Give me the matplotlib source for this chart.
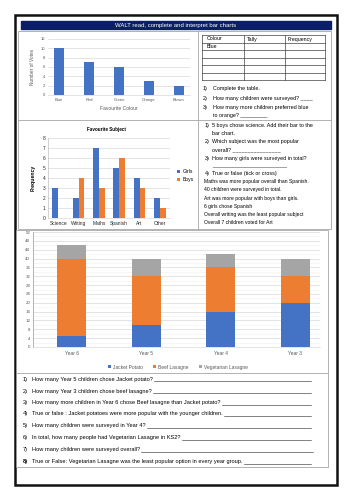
"""Worksheet: WALT read, complete and interpret bar charts."""

import matplotlib
matplotlib.use("Agg")
import matplotlib.pyplot as plt
import numpy as np
from matplotlib.lines import Line2D
from matplotlib.patches import Rectangle

plt.rcParams["font.family"] = ["Liberation Sans", "DejaVu Sans"]

# --- data ---------------------------------------------------------------
colours = ["Blue", "Red", "Green", "Orange", "Brown"]
votes = [10, 7, 6, 3, 2]

subjects = ["Science", "Writing", "Maths", "Spanish", "Art", "Other"]
girls = [3, 2, 7, 5, 4, 2]
boys = [0, 4, 3, 6, 3, 1]

years = ["Year 6", "Year 5", "Year 4", "Year 3"]
jacket_potato = [5, 10, 16, 20]
beef_lasagne = [35, 22, 20, 12]
veg_lasagne = [6, 8, 6, 8]

table_header = ["Colour", "Tally", "Frequency"]

table_questions = [
    ("1)", "Complete the table."),
    ("2)", "How many children were surveyed? ____"),
    ("3)", "How many more children preferred blue"),
    ("", "to orange? _________"),
]

subject_questions = [
    ("1)", "5 boys chose science. Add their bar to the"),
    ("", "bar chart."),
    ("2)", "Which subject was the most popular"),
    ("", "overall? ________________"),
    ("3)", "How many girls were surveyed in total?"),
    ("", "_________________________"),
    ("4)", "True or false (tick or cross)"),
]
true_false = [
    "Maths was more popular overall than Spanish.",
    "40 children were surveyed in total.",
    "Art was more popular with boys than girls.",
    "6 girls chose Spanish",
    "Overall writing was the least popular subject",
    "Overall 7 children voted for Art",
]

lunch_questions = [
    "How many Year 5 children chose Jacket potato?",
    "How many Year 3 children chose beef lasagne?",
    "How many more children in Year 6 chose Beef lasagne than Jacket potato?",
    "True or false : Jacket potatoes were more popular with the younger children.",
    "How many children were surveyed in Year 4?",
    "In total, how many people had Vegetarian Lasagne in KS2?",
    "How many children were surveyed overall?",
    "True or False: Vegetarian Lasagne was the least popular option in every year group.",
]

BLUE = "#4472C4"
ORANGE = "#ED7D31"
GREY = "#A5A5A5"
FRAME = "#A6A6A6"
TICK = "#595959"

W, H = 353, 500
fig = plt.figure(figsize=(W / 100, H / 100), dpi=100)


def rect(x0, y0, x1, y1):
    return [x0 / W, 1 - y1 / H, (x1 - x0) / W, (y1 - y0) / H]


def put(x, y, s, **kw):
    kw.setdefault("va", "center")
    kw.setdefault("fontsize", 4)
    return fig.text(x / W, 1 - y / H, s, **kw)


def hline(x0, x1, y, **kw):
    kw.setdefault("color", FRAME)
    kw.setdefault("lw", 0.6)
    fig.add_artist(Line2D([x0 / W, x1 / W], [1 - y / H, 1 - y / H], **kw))


def vline(x, y0, y1, **kw):
    kw.setdefault("color", FRAME)
    kw.setdefault("lw", 0.6)
    fig.add_artist(Line2D([x / W, x / W], [1 - y0 / H, 1 - y1 / H], **kw))


def frame(x0, y0, x1, y1, **kw):
    fig.add_artist(Rectangle((x0 / W, 1 - y1 / H), (x1 - x0) / W, (y1 - y0) / H,
                             transform=fig.transFigure, fill=False, **kw))


# --- page furniture -------------------------------------------------------
frame(15, 15, 337, 485, lw=1.8, edgecolor="#111111")
fig.add_artist(Rectangle((21 / W, 1 - 29 / H), 310 / W, 8 / H,
                         transform=fig.transFigure, color="#0A1F66"))
put(176, 25, "WALT read, complete and interpret bar charts", color="white",
    ha="center", fontsize=4.3)

frame(18, 31, 331, 229, lw=0.6, edgecolor=FRAME)
vline(198, 31, 229)
hline(18, 331, 120)
frame(16, 230, 328, 467, lw=0.6, edgecolor=FRAME)
hline(16, 328, 373)


def style_axes(ax, labelsize=3, colour=TICK):
    ax.set_axisbelow(True)
    ax.grid(axis="y", color="#D9D9D9", lw=0.5)
    for side in ("top", "right", "left"):
        ax.spines[side].set_visible(False)
    ax.spines["bottom"].set_color("#D9D9D9")
    ax.spines["bottom"].set_linewidth(0.5)
    ax.tick_params(length=0, labelsize=labelsize, colors=colour, pad=2)


# --- chart 1: favourite colour -----------------------------------------------
ax1 = fig.add_axes(rect(48, 39, 190, 95))
ax1.bar(colours, votes, width=0.32, color=BLUE)
ax1.set_ylim(0, 12)
ax1.set_yticks(np.arange(0, 13, 2))
style_axes(ax1)
put(33, 67, "Number of Votes", rotation=90, ha="center", fontsize=3.4, color=TICK)
put(119, 109, "Favourite Colour", ha="center", fontsize=3.6, color=TICK)

# --- tally table ----------------------------------------------------------
row_y = np.linspace(35, 80, 7)
for y in row_y:
    hline(202, 325, y, color="#404040", lw=0.5)
for x in (202, 244, 285, 325):
    vline(x, 35, 80, color="#404040", lw=0.5)
for x, label in zip((207, 247, 288), table_header):
    put(x, 39, label, fontsize=3.8)
put(207, 47, "Blue", fontsize=3.8)

for y, (num, text) in zip((89, 98.5, 107, 116), table_questions):
    put(203, y, num, fontsize=3.9)
    put(213, y, text, fontsize=3.9)

# --- chart 2: favourite subject ------------------------------------------------
ax2 = fig.add_axes(rect(48, 138, 170, 218))
x = np.arange(len(subjects))
w = 0.29
ax2.bar(x - w / 2, girls, width=w, color=BLUE, label="Girls")
ax2.bar(x + w / 2, boys, width=w, color=ORANGE, label="Boys")
ax2.set_xticks(x, subjects)
ax2.set_xlim(-0.5, len(subjects) - 0.5)
ax2.set_ylim(0, 8)
ax2.set_yticks(np.arange(0, 9, 1))
style_axes(ax2, labelsize=3.5, colour="#262626")
ax2.spines["left"].set_visible(True)
ax2.spines["left"].set_color("#BFBFBF")
ax2.spines["left"].set_linewidth(0.5)
ax2.legend(loc="center left", bbox_to_anchor=(1.02, 0.53), frameon=False,
           fontsize=3.6, handlelength=0.7, handleheight=0.7, handletextpad=0.5,
           labelspacing=0.6)
put(106, 129, "Favourite Subject", ha="center", fontsize=3.3, fontweight="bold")
put(33, 178, "Frequency", rotation=90, ha="center", fontsize=3.7, fontweight="bold")

lines_y = (125, 133.5, 141.5, 150, 158, 166, 173)
for y, (num, text) in zip(lines_y, subject_questions):
    put(205, y, num, fontsize=3.9)
    put(212, y, text, fontsize=3.9)
for i, text in enumerate(true_false):
    put(204, 181.5 + i * 8.3, text, fontsize=3.65)

# --- chart 3: school lunches ------------------------------------------------
ax3 = fig.add_axes(rect(33, 232, 320, 347))
pos = np.arange(len(years))
bw = 0.39
first = np.array(jacket_potato)
second = first + np.array(beef_lasagne)
ax3.bar(pos, jacket_potato, width=bw, color=BLUE, label="Jacket Potato")
ax3.bar(pos, beef_lasagne, width=bw, bottom=first, color=ORANGE, label="Beef Lasagne")
ax3.bar(pos, veg_lasagne, width=bw, bottom=second, color=GREY,
        label="Vegetarian Lasagne")
ax3.set_xticks(pos, years)
ax3.set_xlim(-0.52, 3.33)
ax3.set_ylim(0, 52)
ax3.set_yticks(np.arange(0, 53, 4))
ax3.set_yticks(np.arange(0, 53, 2), minor=True)
style_axes(ax3, labelsize=3.2)
ax3.tick_params(axis="x", labelsize=3.5, pad=3)
ax3.grid(axis="y", which="minor", color="#EFEFEF", lw=0.4)
ax3.tick_params(which="minor", length=0)
ax3.spines["left"].set_visible(True)
ax3.spines["left"].set_color("#8FAADC")
ax3.spines["left"].set_linewidth(0.6)
ax3.legend(loc="center", bbox_to_anchor=(0.505, -0.175), ncol=3, frameon=False,
           fontsize=3.5, handlelength=0.6, handleheight=0.6, handletextpad=0.4,
           columnspacing=2.2, labelcolor=TICK)

# --- lunch questions with answer lines --------------------------------------------
renderer = fig.canvas.get_renderer()
q_y = (379, 391, 402.5, 414, 426, 438, 450, 461.5)
for i, (y, text) in enumerate(zip(q_y, lunch_questions)):
    weight = "bold" if i == 7 else "normal"
    put(23, y, f"{i + 1})", fontsize=4.05, fontweight=weight)
    t = put(32, y, text, fontsize=4.05)
    bb = t.get_window_extent(renderer)
    end = 311 if i != 6 else 313
    yb = H - bb.y0 - 0.3
    hline(bb.x1 + 1, end, yb, color="#222222", lw=0.4)

fig.savefig("out.png", dpi=100)
